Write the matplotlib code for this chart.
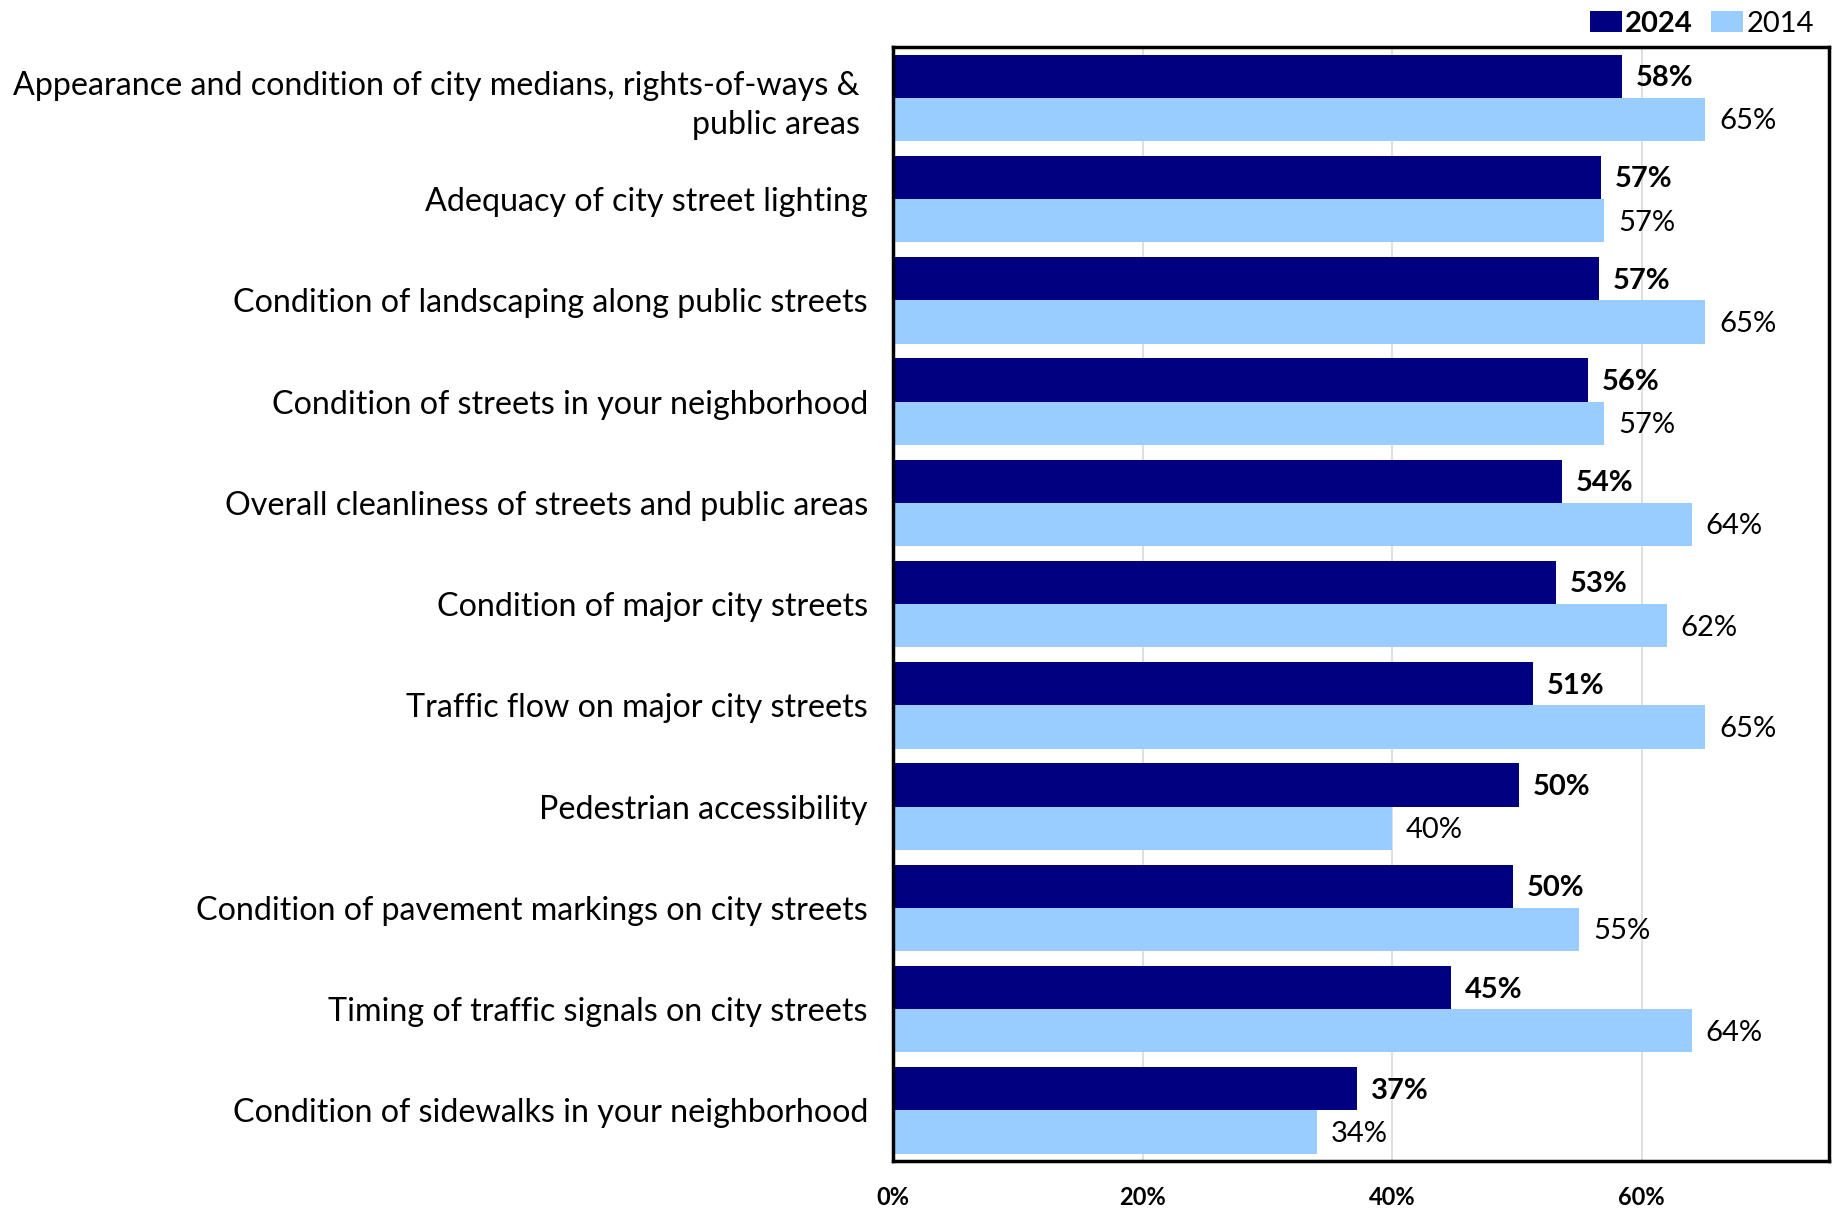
import matplotlib
matplotlib.use("Agg")
import matplotlib.pyplot as plt
from matplotlib.patches import Patch
import numpy as np

plt.rcParams['font.family'] = ['Lato', 'DejaVu Sans']

categories = [
    "Appearance and condition of city medians, rights-of-ways & \npublic areas ",
    "Adequacy of city street lighting",
    "Condition of landscaping along public streets",
    "Condition of streets in your neighborhood",
    "Overall cleanliness of streets and public areas",
    "Condition of major city streets",
    "Traffic flow on major city streets",
    "Pedestrian accessibility",
    "Condition of pavement markings on city streets",
    "Timing of traffic signals on city streets",
    "Condition of sidewalks in your neighborhood",
]
values_2024 = [58.4, 56.7, 56.6, 55.7, 53.6, 53.1, 51.3, 50.2, 49.7, 44.7, 37.2]
values_2014 = [65.1, 57.0, 65.1, 57.0, 64.0, 62.0, 65.1, 40.0, 55.0, 64.0, 34.0]
x_ticks = [0, 20, 40, 60]
x_tick_labels = ["0%", "20%", "40%", "60%"]

color_2024 = "#000080"
color_2014 = "#99CCFF"

fig = plt.figure(figsize=(18.35, 12.08), dpi=100)
ax = fig.add_axes([0.4866, 0.0389, 0.9967 - 0.4866, 0.961 - 0.0389])

y = np.arange(len(categories))
h = 0.427
ax.barh(y - h / 2, values_2024, height=h, color=color_2024, zorder=2)
ax.barh(y + h / 2, values_2014, height=h, color=color_2014, zorder=2)

for yi, v in zip(y, values_2024):
    ax.text(v + 1.1, yi - h / 2 + 0.02, f"{v:.0f}%", va="center", ha="left",
            fontsize=21, fontweight="bold", color="black")
for yi, v in zip(y, values_2014):
    ax.text(v + 1.1, yi + h / 2 + 0.02, f"{v:.0f}%", va="center", ha="left",
            fontsize=21, color="black")

ax.set_xlim(0, 75)
ax.set_ylim(len(categories) - 0.5, -0.5)
ax.set_yticks(y)
ax.set_yticklabels(categories, fontsize=23.2, linespacing=1.4)
for lbl in ax.get_yticklabels():
    lbl.set_horizontalalignment("right")
ax.set_xticks(x_ticks)
ax.set_xticklabels(x_tick_labels, fontsize=17, fontweight="bold")
ax.tick_params(axis="y", length=0, pad=18)
ax.tick_params(axis="x", length=0, pad=18)

ax.grid(axis="x", color="#D9D9D9", linewidth=1.2, zorder=0)
ax.set_axisbelow(True)
for s in ax.spines.values():
    s.set_linewidth(2.5)
    s.set_color("black")

handles = [Patch(facecolor=color_2024, label="2024"),
           Patch(facecolor=color_2014, label="2014")]
leg = fig.legend(handles=handles, loc="upper right", bbox_to_anchor=(1.003, 1.013),
                 ncol=2, frameon=False, fontsize=21, handlelength=1.1,
                 handleheight=0.75, handletextpad=0.12, columnspacing=0.62)
leg.get_texts()[0].set_fontweight("bold")

fig.savefig("out.png", dpi=100)
